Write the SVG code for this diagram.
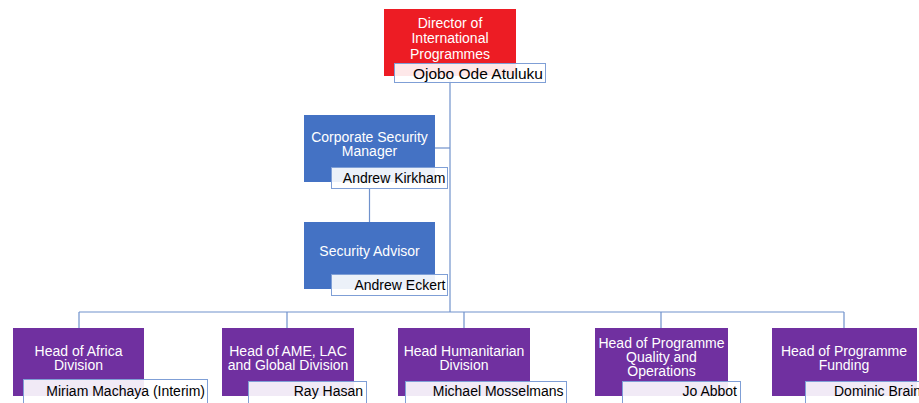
<svg xmlns="http://www.w3.org/2000/svg" width="919" height="403" viewBox="0 0 919 403">
<style>
.red{fill:#ED1C24}
.blue{fill:#4472C4}
.purple{fill:#7030A0}
.nb{fill:#ffffff;fill-opacity:0.9;stroke:#7f9fd6;stroke-width:1}
.t{font-family:"Liberation Sans",Arial,sans-serif;font-size:14px;fill:#ffffff;text-anchor:middle}
.n{font-family:"Liberation Sans",Arial,sans-serif;font-size:14px;fill:#000000;text-anchor:end}
.c{stroke:#7092cc;stroke-width:1.2;fill:none}
</style>
<rect width="919" height="403" fill="#ffffff"/>
<g id="connectors">
<path class="c" d="M450 76 V312"/>
<path class="c" d="M435 148 H450"/>
<path class="c" d="M369.5 189 V222"/>
<path class="c" d="M79 312 H844"/>
<path class="c" d="M79 312 V328 M287 312 V328 M464 312 V328 M661 312 V328 M844 312 V328"/>
</g>
<g id="director">
<rect class="red" x="384" y="9" width="132" height="67"/>
<text class="t" x="450" y="27.5">Director of</text>
<text class="t" x="450" y="43">International</text>
<text class="t" x="450" y="58.5">Programmes</text>
<rect class="nb" x="394.5" y="63.5" width="151" height="19"/>
<text class="n" x="543" y="78.5" style="font-size:15.5px">Ojobo Ode Atuluku</text>
</g>
<g id="csm">
<rect class="blue" x="304" y="115" width="131" height="67"/>
<text class="t" x="369.5" y="141.5">Corporate Security</text>
<text class="t" x="369.5" y="155.5">Manager</text>
<rect class="nb" x="331.5" y="167.5" width="116" height="21"/>
<text class="n" x="445.5" y="183">Andrew Kirkham</text>
</g>
<g id="sa">
<rect class="blue" x="304" y="222" width="131" height="67"/>
<text class="t" x="369.5" y="256">Security Advisor</text>
<rect class="nb" x="331.5" y="274.5" width="116" height="21"/>
<text class="n" x="445.5" y="289.5">Andrew Eckert</text>
</g>
<g id="africa">
<rect class="purple" x="13" y="328" width="131" height="68"/>
<text class="t" x="78.5" y="355.5">Head of Africa</text>
<text class="t" x="78.5" y="369.5">Division</text>
<rect class="nb" x="23.5" y="379.5" width="184" height="30"/>
<text class="n" x="205" y="395.5">Miriam Machaya (Interim)</text>
</g>
<g id="ame">
<rect class="purple" x="222" y="328" width="132" height="68"/>
<text class="t" x="288" y="355.5">Head of AME, LAC</text>
<text class="t" x="288" y="369.5">and Global Division</text>
<rect class="nb" x="248.5" y="381.5" width="118" height="30"/>
<text class="n" x="363" y="396">Ray Hasan</text>
</g>
<g id="humanitarian">
<rect class="purple" x="398" y="328" width="132" height="68"/>
<text class="t" x="464" y="355.5">Head Humanitarian</text>
<text class="t" x="464" y="369.5">Division</text>
<rect class="nb" x="405.5" y="381.5" width="161" height="30"/>
<text class="n" x="563.5" y="396">Michael Mosselmans</text>
</g>
<g id="pqo">
<rect class="purple" x="595" y="328" width="133" height="68"/>
<text class="t" x="661.5" y="348">Head of Programme</text>
<text class="t" x="661.5" y="362">Quality and</text>
<text class="t" x="661.5" y="375.5">Operations</text>
<rect class="nb" x="622.5" y="381.5" width="118" height="30"/>
<text class="n" x="737" y="396">Jo Abbot</text>
</g>
<g id="funding">
<rect class="purple" x="772" y="328" width="145" height="68"/>
<text class="t" x="844" y="355.5">Head of Programme</text>
<text class="t" x="844" y="369.5">Funding</text>
<rect class="nb" x="805.5" y="381.5" width="130" height="30"/>
<text class="n" x="834" y="396" style="text-anchor:start">Dominic Brain</text>
</g>
</svg>
